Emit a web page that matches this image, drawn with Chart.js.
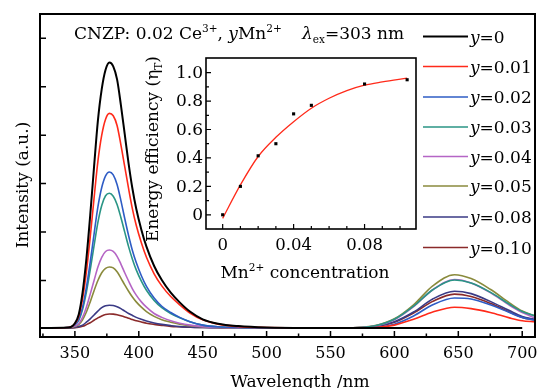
<!DOCTYPE html>
<html>
<head>
<meta charset="utf-8">
<script src="https://cdn.jsdelivr.net/npm/chart.js@4.4.0/dist/chart.umd.min.js"></script>
<style>
html, body { margin: 0; padding: 0; background: #fff; }
#wrap { position: relative; width: 537px; height: 388px; overflow: hidden; }
canvas { position: absolute; left: 0; top: 0; }
</style>
</head>
<body>
<div id="wrap">
  <canvas id="main" width="537" height="388"></canvas>
  <canvas id="inset" width="537" height="388"></canvas>
</div>
<script>
// emission spectra (arbitrary units)
const wavelengths = [323, 345, 350, 353, 356, 359, 362, 365, 368, 371, 374, 377, 380, 383, 386, 389, 392, 395, 398, 402,
                     406, 412, 418, 425, 432, 440, 450, 462, 478, 500, 530, 560,
                     585, 600, 615, 630, 647, 660, 675, 690, 700, 710];
const y000 = [0.02, 0.03, 0.12, 0.3, 0.75, 1.45, 2.35, 3.35, 4.3, 4.95, 5.35, 5.5, 5.42, 5.15, 4.62, 4.02, 3.42, 2.9, 2.48, 2.05,
              1.7, 1.3, 1.01, 0.75, 0.55, 0.36, 0.2, 0.11, 0.06, 0.03, 0.02, 0.02,
              0.02, 0.02, 0.02, 0.02, 0.02, 0.02, 0.02, 0.02, 0.02, null];
const y001 = [0.02, 0.03, 0.11, 0.26, 0.62, 1.18, 1.9, 2.7, 3.46, 4.0, 4.33, 4.45, 4.4, 4.2, 3.8, 3.35, 2.9, 2.48, 2.14, 1.78,
              1.48, 1.14, 0.89, 0.67, 0.5, 0.33, 0.19, 0.1, 0.05, 0.03, 0.02, 0.02,
              0.03, 0.08, 0.2, 0.35, 0.45, 0.42, 0.34, 0.23, 0.17, 0.15];
const y002 = [0.02, 0.03, 0.09, 0.2, 0.45, 0.86, 1.38, 1.96, 2.52, 2.92, 3.16, 3.24, 3.18, 2.98, 2.65, 2.28, 1.93, 1.62, 1.37, 1.1,
              0.88, 0.64, 0.47, 0.34, 0.24, 0.15, 0.08, 0.045, 0.03, 0.02, 0.02, 0.02,
              0.03, 0.1, 0.27, 0.5, 0.64, 0.62, 0.5, 0.34, 0.24, 0.18];
const y003 = [0.02, 0.03, 0.09, 0.18, 0.4, 0.76, 1.22, 1.72, 2.2, 2.55, 2.75, 2.8, 2.74, 2.57, 2.3, 2.0, 1.7, 1.44, 1.22, 0.99,
              0.8, 0.59, 0.44, 0.32, 0.23, 0.15, 0.08, 0.045, 0.03, 0.02, 0.02, 0.02,
              0.065, 0.2, 0.47, 0.81, 1.01, 0.95, 0.76, 0.51, 0.36, 0.27];
const y004 = [0.02, 0.03, 0.06, 0.11, 0.24, 0.45, 0.72, 1.0, 1.28, 1.48, 1.6, 1.63, 1.6, 1.5, 1.34, 1.16, 0.99, 0.83, 0.7, 0.56,
              0.45, 0.32, 0.24, 0.17, 0.12, 0.08, 0.05, 0.03, 0.02, 0.02, 0.02, 0.02,
              0.06, 0.19, 0.46, 0.81, 1.02, 0.95, 0.75, 0.49, 0.34, 0.23];
const y005 = [0.02, 0.03, 0.05, 0.09, 0.19, 0.35, 0.56, 0.79, 1.0, 1.16, 1.25, 1.28, 1.26, 1.18, 1.05, 0.91, 0.78, 0.66, 0.56, 0.45,
              0.36, 0.26, 0.19, 0.14, 0.1, 0.07, 0.045, 0.03, 0.02, 0.02, 0.02, 0.02,
              0.07, 0.21, 0.5, 0.89, 1.12, 1.04, 0.82, 0.54, 0.37, 0.27];
const y008 = [0.02, 0.02, 0.03, 0.05, 0.08, 0.14, 0.21, 0.29, 0.37, 0.44, 0.48, 0.49, 0.485, 0.46, 0.42, 0.37, 0.32, 0.28, 0.24, 0.2,
              0.165, 0.125, 0.095, 0.07, 0.05, 0.04, 0.03, 0.025, 0.02, 0.02, 0.02, 0.02,
              0.05, 0.15, 0.35, 0.62, 0.78, 0.73, 0.57, 0.38, 0.26, 0.2];
const y010 = [0.02, 0.02, 0.025, 0.035, 0.055, 0.09, 0.13, 0.18, 0.23, 0.27, 0.3, 0.31, 0.308, 0.295, 0.275, 0.25, 0.22, 0.195, 0.17, 0.145,
              0.12, 0.095, 0.075, 0.055, 0.045, 0.035, 0.03, 0.025, 0.02, 0.02, 0.02, 0.02,
              0.05, 0.14, 0.33, 0.57, 0.72, 0.67, 0.53, 0.35, 0.24, 0.19];

const seriesLabels = ['0', '0.01', '0.02', '0.03', '0.04', '0.05', '0.08', '0.10'];
const seriesData = [y000, y001, y002, y003, y004, y005, y008, y010];
const seriesColors = ['#000000', '#ff2a1a', '#2e5cc5', '#2a9585', '#b565c5', '#8a8a3c', '#3a3a85', '#8a2a2a'];

const xTicks = [350, 400, 450, 500, 550, 600, 650, 700];
const xMinor = [325, 375, 425, 475, 525, 575, 625, 675];
const yTicks = [1, 2, 3, 4, 5, 6];

// inset: energy transfer efficiency
const concentration = [0, 0.01, 0.02, 0.03, 0.04, 0.05, 0.08, 0.104];
const efficiency = [0, 0.2, 0.415, 0.5, 0.71, 0.77, 0.92, 0.95];
const fitX = [0, 0.01, 0.02, 0.03, 0.04, 0.05, 0.06, 0.07, 0.08, 0.09, 0.104];
const fitY = [-0.025, 0.21, 0.41, 0.545, 0.655, 0.75, 0.82, 0.874, 0.912, 0.935, 0.962];
const insetXLabels = [0, 0.04, 0.08];
const insetXTicks = [0, 0.01, 0.02, 0.03, 0.04, 0.05, 0.06, 0.07, 0.08, 0.09, 0.10];
const insetYLabels = [0, 0.2, 0.4, 0.6, 0.8, 1.0];
const insetYTicks = [0, 0.1, 0.2, 0.3, 0.4, 0.5, 0.6, 0.7, 0.8, 0.9, 1.0];

const FAM = '"DejaVu Serif", "Liberation Serif", serif';

function partFont(p, size) {
    let s = (p.s === 'sup' || p.s === 'sub') ? size * 0.62 : size;
    return (p.i ? 'italic ' : '') + s + 'px ' + FAM;
}

// draw a line of text made of pieces (italic / superscript / subscript)
function drawRich(ctx, parts, x, y, size, align) {
    let w = 0;
    parts.forEach(p => { ctx.font = partFont(p, size); w += ctx.measureText(p.t).width; });
    let cx = align === 'center' ? x - w / 2 : (align === 'right' ? x - w : x);
    ctx.textAlign = 'left';
    ctx.textBaseline = 'alphabetic';
    parts.forEach(p => {
        ctx.font = partFont(p, size);
        let dy = p.s === 'sup' ? -size * 0.4 : (p.s === 'sub' ? size * 0.25 : 0);
        ctx.fillText(p.t, cx, y + dy);
        cx += ctx.measureText(p.t).width;
    });
}

const mainDecor = {
    id: 'mainDecor',
    afterDraw(chart) {
        const ctx = chart.ctx;
        const a = chart.chartArea;
        const xs = chart.scales.x, ys = chart.scales.y;
        ctx.save();
        ctx.strokeStyle = '#000';
        ctx.fillStyle = '#000';
        ctx.lineWidth = 2;
        ctx.strokeRect(a.left, a.top, a.right - a.left, a.bottom - a.top);

        ctx.lineWidth = 1.5;
        ctx.beginPath();
        xTicks.forEach(v => { const px = xs.getPixelForValue(v); ctx.moveTo(px, a.bottom); ctx.lineTo(px, a.bottom - 6); });
        xMinor.forEach(v => { const px = xs.getPixelForValue(v); ctx.moveTo(px, a.bottom); ctx.lineTo(px, a.bottom - 3.5); });
        yTicks.forEach(v => { const py = ys.getPixelForValue(v); ctx.moveTo(a.left, py); ctx.lineTo(a.left + 6, py); });
        ctx.stroke();

        ctx.font = '16px ' + FAM;
        ctx.textAlign = 'center';
        ctx.textBaseline = 'alphabetic';
        xTicks.forEach(v => ctx.fillText(String(v), xs.getPixelForValue(v), 358));

        drawRich(ctx, [{ t: 'Wavelength /nm' }], 300, 387, 17, 'center');

        ctx.save();
        ctx.translate(28, 185);
        ctx.rotate(-Math.PI / 2);
        drawRich(ctx, [{ t: 'Intensity (a.u.)' }], 0, 0, 17, 'center');
        ctx.restore();

        drawRich(ctx, [{ t: 'CNZP: 0.02 Ce' }, { t: '3+', s: 'sup' }, { t: ', ' }, { t: 'y', i: true }, { t: 'Mn' }, { t: '2+', s: 'sup' }], 74, 39, 17, 'left');
        drawRich(ctx, [{ t: 'λ', i: true }, { t: 'ex', s: 'sub' }, { t: '=303 nm' }], 302, 39, 17, 'left');

        // legend
        const legendY = [36.5, 66.5, 97, 127, 156.5, 186, 217, 247.5];
        seriesLabels.forEach((lab, i) => {
            const ly = legendY[i];
            ctx.strokeStyle = seriesColors[i];
            ctx.lineWidth = i === 0 ? 2 : 1.6;
            ctx.beginPath();
            ctx.moveTo(423, ly);
            ctx.lineTo(468, ly);
            ctx.stroke();
            ctx.fillStyle = '#000';
            drawRich(ctx, [{ t: 'y', i: true }, { t: '=' + lab }], 470, ly + 6, 17, 'left');
        });
        ctx.restore();
    }
};

const insetDecor = {
    id: 'insetDecor',
    beforeDraw(chart) {
        const ctx = chart.ctx;
        const a = chart.chartArea;
        ctx.save();
        ctx.fillStyle = '#fff';
        ctx.fillRect(a.left, a.top, a.right - a.left, a.bottom - a.top);
        ctx.restore();
    },
    afterDraw(chart) {
        const ctx = chart.ctx;
        const a = chart.chartArea;
        const xs = chart.scales.x, ys = chart.scales.y;
        ctx.save();
        ctx.strokeStyle = '#000';
        ctx.fillStyle = '#000';
        ctx.lineWidth = 1.6;
        ctx.strokeRect(a.left, a.top, a.right - a.left, a.bottom - a.top);

        ctx.lineWidth = 1.2;
        ctx.beginPath();
        insetXTicks.forEach((v, i) => {
            const px = xs.getPixelForValue(v);
            const len = (i % 4 === 0) ? 5 : 3;
            ctx.moveTo(px, a.bottom); ctx.lineTo(px, a.bottom - len);
        });
        insetYTicks.forEach((v, i) => {
            const py = ys.getPixelForValue(v);
            const len = (i % 2 === 0) ? 5 : 3;
            ctx.moveTo(a.left, py); ctx.lineTo(a.left + len, py);
        });
        ctx.stroke();

        ctx.font = '16.5px ' + FAM;
        ctx.textAlign = 'center';
        ctx.textBaseline = 'alphabetic';
        insetXLabels.forEach(v => ctx.fillText(v === 0 ? '0' : v.toFixed(2), xs.getPixelForValue(v), 250));
        ctx.textAlign = 'right';
        ctx.textBaseline = 'middle';
        ctx.font = '17px ' + FAM;
        insetYLabels.forEach(v => ctx.fillText(v === 0 ? '0' : v.toFixed(1), 203, ys.getPixelForValue(v) + 1));

        drawRich(ctx, [{ t: 'Mn' }, { t: '2+', s: 'sup' }, { t: ' concentration' }], 305, 278, 17, 'center');

        ctx.save();
        ctx.translate(158, 149);
        ctx.rotate(-Math.PI / 2);
        drawRich(ctx, [{ t: 'Energy efficiency (η' }, { t: 'T', s: 'sub' }, { t: ')' }], 0, 0, 17, 'center');
        ctx.restore();
        ctx.restore();
    }
};

new Chart(document.getElementById('main'), {
    type: 'line',
    data: {
        datasets: seriesData.map((arr, i) => ({
            label: 'y=' + seriesLabels[i],
            data: wavelengths.map((w, k) => ({ x: w, y: arr[k] })),
            borderColor: seriesColors[i],
            borderWidth: i === 0 ? 2 : 1.6,
            pointRadius: 0,
            fill: false,
            spanGaps: false,
            cubicInterpolationMode: 'monotone'
        }))
    },
    options: {
        responsive: false,
        animation: false,
        layout: { padding: { left: 40, top: 14, right: 2, bottom: 51 } },
        plugins: { legend: { display: false }, tooltip: { enabled: false } },
        scales: {
            x: { type: 'linear', min: 322.7, max: 710, display: false },
            y: { type: 'linear', min: -0.165, max: 6.5, display: false }
        }
    },
    plugins: [mainDecor]
});

new Chart(document.getElementById('inset'), {
    type: 'line',
    data: {
        datasets: [
            {
                label: 'points',
                data: concentration.map((c, k) => ({ x: c, y: efficiency[k] })),
                showLine: false,
                pointStyle: 'rect',
                pointRadius: 2.2,
                backgroundColor: '#000',
                borderColor: '#000',
                borderWidth: 0
            },
            {
                label: 'fit',
                data: fitX.map((c, k) => ({ x: c, y: fitY[k] })),
                borderColor: '#ff2a1a',
                borderWidth: 1.3,
                pointRadius: 0,
                cubicInterpolationMode: 'monotone'
            }
        ]
    },
    options: {
        responsive: false,
        animation: false,
        layout: { padding: { left: 206, top: 58, right: 121, bottom: 159 } },
        plugins: { legend: { display: false }, tooltip: { enabled: false } },
        scales: {
            x: { type: 'linear', min: -0.0094, max: 0.109, display: false },
            y: { type: 'linear', min: -0.1, max: 1.103, display: false }
        }
    },
    plugins: [insetDecor]
});
</script>
</body>
</html>
